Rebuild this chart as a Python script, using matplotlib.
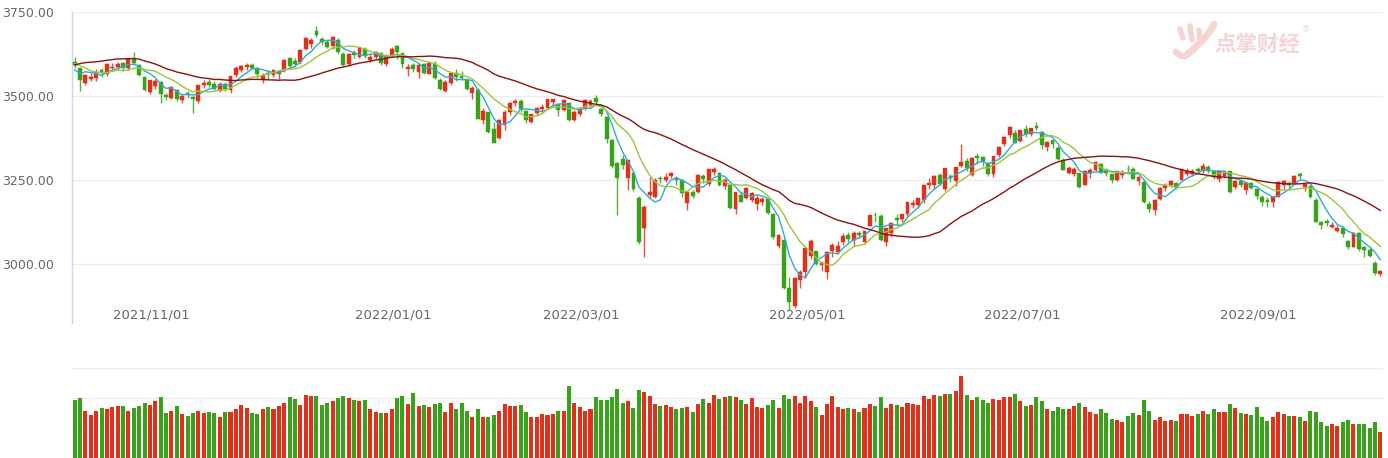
import numpy as np
import pandas as pd
import matplotlib
matplotlib.use("Agg")
import matplotlib.pyplot as plt
from matplotlib.lines import Line2D

# Shanghai composite, daily, 2021-10-11 .. 2022-10-11
holidays = ["2022-01-03", "2022-01-31", "2022-02-01", "2022-02-02", "2022-02-03",
            "2022-02-04", "2022-04-04", "2022-04-05", "2022-05-02", "2022-05-03",
            "2022-05-04", "2022-06-03", "2022-09-12", "2022-10-03", "2022-10-04",
            "2022-10-05", "2022-10-06", "2022-10-07"]

# closes before the first visible day (only used to warm up the moving averages)
warmup_close = [3427, 3477, 3514, 3540, 3501, 3522, 3528, 3544, 3567, 3597,
                3581, 3621, 3676, 3675, 3693, 3703, 3715, 3662, 3656, 3607,
                3613, 3628, 3643, 3613, 3582, 3602, 3536, 3568, 3592]

open_ = [3601, 3583, 3540, 3552, 3553, 3576, 3566, 3582, 3586, 3597,
         3582, 3610, 3592, 3556, 3512, 3530, 3542, 3502, 3494, 3518,
         3488, 3510, 3497, 3485, 3532, 3541, 3536, 3517, 3537, 3519,
         3562, 3577, 3586, 3593, 3584, 3547, 3568, 3562, 3565, 3578,
         3612, 3604, 3601, 3640, 3655, 3693, 3670, 3662, 3650, 3667,
         3624, 3596, 3629, 3617, 3641, 3608, 3615, 3627, 3595, 3620,
         3649, 3628, 3581, 3591, 3572, 3594, 3566, 3596, 3547, 3515,
         3539, 3568, 3560, 3547, 3509, 3519, 3428, 3452, 3402, 3374,
         3414, 3451, 3480, 3484, 3455, 3424, 3449, 3461, 3465, 3481,
         3476, 3457, 3480, 3430, 3445, 3463, 3473, 3494, 3461, 3437,
         3369, 3300, 3312, 3256, 3270, 3196, 3107, 3205, 3200, 3256,
         3250, 3262, 3256, 3250, 3181, 3214, 3214, 3262, 3237, 3274,
         3272, 3233, 3235, 3163, 3205, 3197, 3190, 3178, 3186, 3192,
         3148, 3053, 3072, 2928, 2874, 2952, 2975, 3023, 3039, 2998,
         2975, 3038, 3035, 3066, 3087, 3071, 3091, 3064, 3113, 3147,
         3143, 3065, 3092, 3137, 3133, 3148, 3176, 3176, 3190, 3236,
         3236, 3265, 3222, 3262, 3246, 3291, 3306, 3266, 3322, 3318,
         3300, 3268, 3325, 3356, 3383, 3389, 3365, 3402, 3387, 3411,
         3393, 3349, 3369, 3344, 3311, 3271, 3267, 3271, 3236, 3271,
         3280, 3299, 3281, 3267, 3249, 3265, 3283, 3284, 3247, 3245,
         3180, 3160, 3192, 3226, 3236, 3241, 3250, 3268, 3269, 3283,
         3276, 3290, 3276, 3252, 3263, 3277, 3228, 3247, 3220, 3240,
         3222, 3200, 3190, 3185, 3199, 3234, 3242, 3241, 3268, 3229,
         3233, 3190, 3124, 3127, 3110, 3098, 3107, 3068, 3052, 3091,
         3050, 3043, 3002, 2969]

high = [3616, 3584, 3564, 3568, 3580, 3583, 3597, 3597, 3600, 3601,
        3612, 3630, 3596, 3559, 3548, 3552, 3545, 3510, 3530, 3521,
        3503, 3514, 3500, 3534, 3547, 3552, 3544, 3542, 3541, 3561,
        3588, 3592, 3598, 3599, 3586, 3567, 3576, 3581, 3578, 3609,
        3617, 3612, 3640, 3675, 3672, 3708, 3677, 3668, 3680, 3674,
        3630, 3627, 3636, 3647, 3645, 3626, 3634, 3631, 3625, 3646,
        3652, 3629, 3594, 3598, 3594, 3598, 3599, 3603, 3553, 3548,
        3571, 3580, 3575, 3555, 3530, 3523, 3463, 3452, 3423, 3431,
        3457, 3481, 3492, 3491, 3457, 3447, 3466, 3476, 3491, 3492,
        3480, 3490, 3482, 3457, 3467, 3490, 3490, 3503, 3465, 3440,
        3372, 3305, 3324, 3310, 3275, 3201, 3175, 3259, 3255, 3262,
        3270, 3273, 3262, 3253, 3216, 3220, 3268, 3268, 3284, 3290,
        3275, 3256, 3236, 3214, 3218, 3228, 3213, 3204, 3200, 3197,
        3152, 3090, 3073, 2960, 2960, 2983, 3048, 3073, 3040, 3009,
        3039, 3063, 3067, 3091, 3095, 3098, 3099, 3097, 3147, 3154,
        3148, 3107, 3124, 3148, 3150, 3186, 3190, 3196, 3236, 3257,
        3266, 3270, 3285, 3269, 3289, 3358, 3316, 3317, 3330, 3320,
        3304, 3321, 3350, 3381, 3410, 3398, 3399, 3415, 3406, 3424,
        3395, 3366, 3370, 3351, 3316, 3292, 3290, 3272, 3280, 3285,
        3306, 3302, 3286, 3269, 3278, 3279, 3295, 3288, 3263, 3249,
        3187, 3192, 3228, 3241, 3250, 3244, 3284, 3285, 3282, 3290,
        3300, 3295, 3280, 3279, 3278, 3278, 3249, 3253, 3243, 3245,
        3226, 3205, 3199, 3201, 3247, 3249, 3246, 3265, 3273, 3239,
        3236, 3196, 3129, 3133, 3126, 3117, 3114, 3071, 3094, 3094,
        3055, 3051, 3008, 2983]

low = [3582, 3515, 3532, 3546, 3545, 3556, 3560, 3574, 3577, 3575,
       3576, 3595, 3560, 3515, 3505, 3522, 3480, 3489, 3491, 3486,
       3478, 3494, 3450, 3480, 3525, 3527, 3518, 3512, 3515, 3510,
       3557, 3570, 3578, 3580, 3555, 3539, 3552, 3556, 3552, 3572,
       3581, 3585, 3596, 3636, 3643, 3676, 3652, 3642, 3641, 3626,
       3590, 3590, 3612, 3613, 3612, 3600, 3610, 3593, 3590, 3618,
       3610, 3583, 3560, 3571, 3555, 3566, 3565, 3551, 3518, 3512,
       3533, 3546, 3548, 3519, 3490, 3431, 3417, 3389, 3359, 3373,
       3400, 3443, 3470, 3451, 3420, 3420, 3442, 3452, 3460, 3469,
       3440, 3455, 3425, 3425, 3440, 3459, 3466, 3476, 3440, 3361,
       3285, 3146, 3284, 3220, 3216, 3061, 3021, 3195, 3195, 3240,
       3245, 3256, 3235, 3200, 3162, 3196, 3210, 3241, 3233, 3266,
       3232, 3224, 3164, 3150, 3184, 3193, 3185, 3161, 3176, 3150,
       3075, 3047, 2927, 2864, 2870, 2930, 2958, 3016, 2996, 2980,
       2955, 3021, 3031, 3056, 3066, 3055, 3078, 3059, 3113, 3124,
       3068, 3055, 3079, 3117, 3124, 3140, 3166, 3168, 3181, 3224,
       3224, 3235, 3216, 3243, 3232, 3288, 3277, 3261, 3298, 3293,
       3262, 3260, 3319, 3350, 3376, 3360, 3362, 3377, 3380, 3399,
       3342, 3336, 3346, 3311, 3279, 3268, 3263, 3226, 3235, 3256,
       3277, 3270, 3261, 3241, 3248, 3255, 3268, 3253, 3235, 3181,
       3155, 3146, 3191, 3218, 3230, 3224, 3249, 3262, 3261, 3270,
       3270, 3272, 3252, 3245, 3255, 3212, 3222, 3230, 3207, 3222,
       3193, 3173, 3169, 3170, 3199, 3221, 3225, 3240, 3253, 3218,
       3196, 3125, 3103, 3112, 3107, 3095, 3081, 3046, 3050, 3039,
       3021, 3021, 2968, 2964]

close = [3591, 3547, 3562, 3558, 3572, 3568, 3594, 3587, 3595, 3583,
         3609, 3598, 3562, 3519, 3547, 3545, 3505, 3498, 3526, 3491,
         3499, 3507, 3492, 3532, 3539, 3533, 3521, 3537, 3520, 3560,
         3582, 3589, 3592, 3584, 3564, 3562, 3564, 3576, 3573, 3607,
         3589, 3595, 3637, 3673, 3666, 3681, 3661, 3647, 3675, 3632,
         3593, 3625, 3622, 3643, 3618, 3615, 3630, 3597, 3620, 3640,
         3632, 3595, 3586, 3580, 3593, 3567, 3597, 3555, 3521, 3541,
         3569, 3558, 3555, 3522, 3524, 3433, 3455, 3394, 3361, 3429,
         3452, 3479, 3485, 3462, 3428, 3446, 3465, 3468, 3490, 3490,
         3457, 3489, 3429, 3451, 3462, 3488, 3484, 3481, 3447, 3372,
         3293, 3256, 3296, 3309, 3223, 3064, 3170, 3215, 3251, 3253,
         3259, 3271, 3250, 3212, 3214, 3203, 3266, 3252, 3282, 3283,
         3236, 3251, 3167, 3213, 3186, 3225, 3211, 3195, 3194, 3151,
         3079, 3087, 2928, 2886, 2958, 2975, 3047, 3068, 3001, 3004,
         3035, 3058, 3054, 3084, 3073, 3093, 3086, 3097, 3146, 3146,
         3071, 3107, 3123, 3130, 3149, 3186, 3182, 3195, 3236, 3241,
         3263, 3238, 3285, 3256, 3288, 3305, 3285, 3316, 3315, 3306,
         3267, 3320, 3349, 3379, 3409, 3361, 3398, 3387, 3405, 3404,
         3355, 3364, 3356, 3313, 3281, 3285, 3282, 3228, 3278, 3279,
         3305, 3272, 3270, 3250, 3277, 3275, 3282, 3253, 3259, 3186,
         3164, 3189, 3227, 3236, 3248, 3230, 3282, 3276, 3276, 3278,
         3293, 3277, 3258, 3277, 3276, 3215, 3246, 3236, 3240, 3227,
         3202, 3184, 3186, 3199, 3243, 3246, 3235, 3262, 3263, 3237,
         3199, 3126, 3115, 3122, 3117, 3108, 3088, 3051, 3093, 3045,
         3041, 3024, 2974, 2979]

# volume, 亿股
volume = [290, 300, 235, 215, 235, 250, 245, 255, 260, 260,
          235, 250, 260, 275, 265, 285, 305, 225, 235, 260,
          220, 210, 225, 235, 225, 230, 225, 205, 230, 230,
          245, 265, 250, 225, 220, 245, 255, 245, 260, 275,
          305, 295, 265, 315, 310, 310, 265, 275, 285, 300,
          310, 300, 290, 285, 290, 245, 230, 225, 225, 245,
          300, 310, 270, 325, 260, 265, 255, 270, 275, 230,
          275, 245, 275, 235, 205, 245, 205, 205, 215, 235,
          270, 260, 260, 265, 230, 205, 205, 220, 215, 220,
          235, 235, 360, 275, 255, 235, 245, 305, 290, 290,
          305, 345, 275, 285, 250, 340, 330, 310, 270, 260,
          265, 255, 245, 250, 255, 230, 270, 295, 275, 315,
          295, 305, 310, 305, 290, 270, 300, 255, 250, 265,
          290, 250, 315, 295, 310, 275, 310, 285, 255, 215,
          270, 310, 255, 245, 250, 245, 230, 250, 270, 260,
          305, 250, 270, 265, 255, 275, 270, 265, 310, 295,
          315, 310, 320, 320, 335, 410, 315, 290, 305, 290,
          275, 295, 290, 305, 305, 320, 285, 260, 265, 305,
          285, 245, 235, 255, 245, 245, 260, 275, 255, 230,
          220, 245, 225, 195, 190, 180, 210, 225, 215, 290,
          235, 190, 205, 185, 190, 185, 220, 220, 210, 220,
          235, 220, 245, 230, 230, 270, 250, 225, 220, 215,
          255, 205, 185, 205, 230, 220, 210, 210, 205, 185,
          235, 230, 180, 160, 170, 160, 180, 190, 170, 170,
          170, 150, 180, 130]

ma_windows = [5, 10, 30]
ma_colors = ["#2fa8d8", "#97c83b", "#8b1012"]

tick_months = ["2021-11", "2022-01", "2022-03", "2022-05", "2022-07", "2022-09"]

red = "#e2311b"
green = "#38a31a"

dates = pd.bdate_range("2021-10-11", "2022-10-11")
dates = dates[~dates.isin(pd.to_datetime(holidays))]
n = len(close)
assert len(dates) == n == len(open_) == len(high) == len(low) == len(volume)

o = np.array(open_, float)
h = np.array(high, float)
l = np.array(low, float)
c = np.array(close, float)
v = np.array(volume, float)
x = np.arange(n)
up = c >= o
cols = np.where(up, red, green)

W, H = 1388, 458
fig = plt.figure(figsize=(W / 100, H / 100), dpi=100)
fig.patch.set_facecolor("white")

ax = fig.add_axes([72 / W, (H - 323) / H, 1311 / W, 311 / H])
axv = fig.add_axes([72 / W, 0, 1311 / W, 90 / H])

# price panel
ax.set_xlim(-0.5, n - 0.5)
ax.set_ylim(3750 - 311 / 84 * 250, 3750)
for s in ["top", "right", "bottom"]:
    ax.spines[s].set_visible(False)
ax.spines["left"].set_color("#ccd6eb")
ax.spines["left"].set_linewidth(1)
yt = [3000, 3250, 3500, 3750]
ax.set_yticks(yt)
ax.set_yticklabels(["%.2f" % t for t in yt])
ax.tick_params(axis="y", length=0, pad=13, labelsize=9, labelcolor="#666666")
ax.set_xticks([])
for t in yt:
    ax.axhline(t, color="#ededf1", lw=1, zorder=0)

ax.vlines(x, l, h, colors=cols, lw=1, alpha=0.85, zorder=2)
body_lo = np.minimum(o, c)
body_h = np.maximum(np.abs(c - o), 1.2)
ax.bar(x, body_h, bottom=body_lo, width=0.72, color=cols, edgecolor=cols,
       linewidth=0.3, zorder=3)

allc = pd.Series(warmup_close + close, dtype=float)
for win, col in zip(ma_windows, ma_colors):
    ma = allc.rolling(win).mean().values[len(warmup_close):]
    ax.plot(x, ma, color=col, lw=1.0, zorder=4)

month_str = dates.strftime("%Y-%m")
for m in tick_months:
    i = int(np.argmax(month_str == m))
    ax.text(i - 0.7, 0.026, m.replace("-", "/") + "/01",
            transform=ax.get_xaxis_transform(),
            ha="center", va="center", fontsize=9.5, color="#666666")

# volume panel
axv.set_xlim(-0.5, n - 0.5)
axv.set_ylim(0, 450)
axv.axis("off")
for t in [150, 300, 450]:
    axv.axhline(t, color="#ededf1", lw=1, zorder=0)
axv.bar(x, v, width=0.75, color=cols, zorder=2)

# watermark
ov = fig.add_axes([0, 0, 1, 1])
ov.set_xlim(0, W)
ov.set_ylim(H, 0)
ov.axis("off")
pink = "#f5d4d4"
ov.text(1257, 44, "点掌财经", fontsize=15.5, fontweight="bold", color=pink,
        family=["Noto Sans CJK SC", "DejaVu Sans"], ha="center", va="center")
ov.text(1306, 30, "®", fontsize=6, color=pink, ha="center", va="center")
tt = np.linspace(0, 1, 30)
ov.plot(1214 - 26 * tt ** 1.3, 24 + 30 * tt, color=pink, lw=5, solid_capstyle="round")
ov.add_artist(Line2D([1180, 1183], [29, 38], color=pink, lw=4, solid_capstyle="round"))
ov.add_artist(Line2D([1190, 1192], [26, 40], color=pink, lw=4, solid_capstyle="round"))
ov.add_artist(Line2D([1199, 1200], [30, 42], color=pink, lw=4, solid_capstyle="round"))
ov.plot(1176 + 14 * tt, 52 + 4 * np.sin(np.pi * tt), color=pink, lw=5,
        solid_capstyle="round")

fig.savefig("out.png", dpi=100)
